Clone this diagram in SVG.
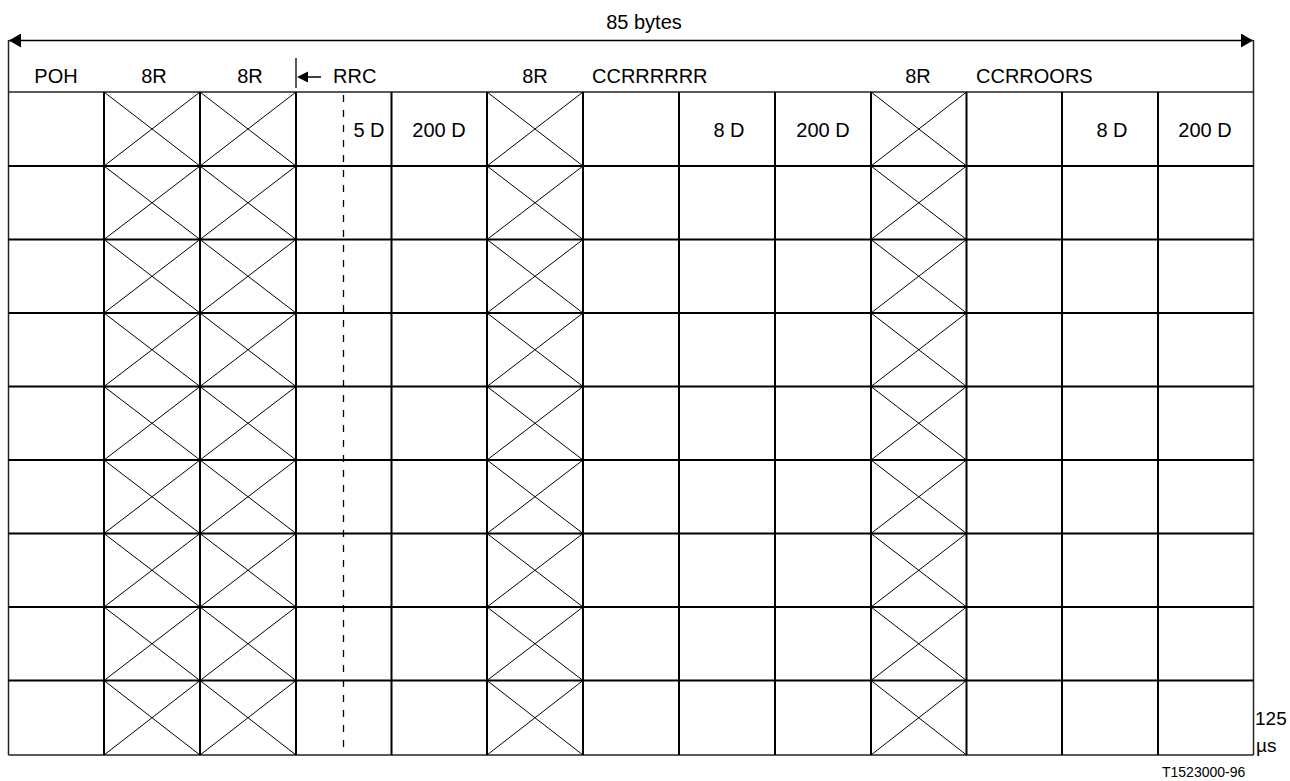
<svg xmlns="http://www.w3.org/2000/svg" width="1290" height="781" viewBox="0 0 1290 781">
<style>
text{font-family:"Liberation Sans",Arial,sans-serif;font-size:20px;fill:#000}
.c{text-anchor:middle}
.small{font-size:14px}
.grid{stroke:#000;stroke-width:2;fill:none}
.outer{stroke:#222;stroke-width:1.5;fill:none}
.x{stroke:#000;stroke-width:1;fill:none}
.dash{stroke:#000;stroke-width:1.3;stroke-dasharray:7 8;fill:none}
</style>
<defs>
<marker id="ah" viewBox="0 0 12 14" refX="12" refY="7" markerWidth="12" markerHeight="14" markerUnits="userSpaceOnUse" orient="auto-start-reverse">
<path d="M0,0 L12,7 L0,14 Z" fill="#000"/>
</marker>
</defs>
<rect width="1290" height="781" fill="#fff"/>

<g id="connectors">
<line x1="9" y1="40.5" x2="1253" y2="40.5" stroke="#000" stroke-width="1.3" marker-start="url(#ah)" marker-end="url(#ah)"/>
<line x1="296" y1="58" x2="296" y2="88" stroke="#000" stroke-width="1.3"/>
<line x1="305" y1="77" x2="321" y2="77" stroke="#000" stroke-width="1.5"/>
<path d="M297,77 L308,71.5 L308,82.5 Z" fill="#000"/>
</g>

<g id="frame">
<line x1="8.5" y1="40" x2="8.5" y2="755" class="outer"/>
<line x1="1253.5" y1="40" x2="1253.5" y2="755" class="outer"/>
<line x1="8.5" y1="92" x2="1253.5" y2="92" class="outer"/>
<line x1="8.5" y1="755" x2="1253.5" y2="755" class="outer"/>
</g>

<g id="grid">
<path class="grid" d="M8.5,166 H1253.5 M8.5,239.5 H1253.5 M8.5,313 H1253.5 M8.5,386.5 H1253.5 M8.5,460 H1253.5 M8.5,533.5 H1253.5 M8.5,607 H1253.5 M8.5,680.5 H1253.5"/>
<path class="grid" d="M104,92 V755 M200,92 V755 M296,92 V755 M391.5,92 V755 M487,92 V755 M583,92 V755 M679,92 V755 M775,92 V755 M871,92 V755 M966.5,92 V755 M1062,92 V755 M1158,92 V755"/>
<line x1="343.5" y1="95" x2="343.5" y2="755" class="dash"/>
</g>

<g id="crosses">
<path class="x" d="
M104,92 L200,166 M200,92 L104,166 M200,92 L296,166 M296,92 L200,166 M487,92 L583,166 M583,92 L487,166 M871,92 L966.5,166 M966.5,92 L871,166
M104,166 L200,239.5 M200,166 L104,239.5 M200,166 L296,239.5 M296,166 L200,239.5 M487,166 L583,239.5 M583,166 L487,239.5 M871,166 L966.5,239.5 M966.5,166 L871,239.5
M104,239.5 L200,313 M200,239.5 L104,313 M200,239.5 L296,313 M296,239.5 L200,313 M487,239.5 L583,313 M583,239.5 L487,313 M871,239.5 L966.5,313 M966.5,239.5 L871,313
M104,313 L200,386.5 M200,313 L104,386.5 M200,313 L296,386.5 M296,313 L200,386.5 M487,313 L583,386.5 M583,313 L487,386.5 M871,313 L966.5,386.5 M966.5,313 L871,386.5
M104,386.5 L200,460 M200,386.5 L104,460 M200,386.5 L296,460 M296,386.5 L200,460 M487,386.5 L583,460 M583,386.5 L487,460 M871,386.5 L966.5,460 M966.5,386.5 L871,460
M104,460 L200,533.5 M200,460 L104,533.5 M200,460 L296,533.5 M296,460 L200,533.5 M487,460 L583,533.5 M583,460 L487,533.5 M871,460 L966.5,533.5 M966.5,460 L871,533.5
M104,533.5 L200,607 M200,533.5 L104,607 M200,533.5 L296,607 M296,533.5 L200,607 M487,533.5 L583,607 M583,533.5 L487,607 M871,533.5 L966.5,607 M966.5,533.5 L871,607
M104,607 L200,680.5 M200,607 L104,680.5 M200,607 L296,680.5 M296,607 L200,680.5 M487,607 L583,680.5 M583,607 L487,680.5 M871,607 L966.5,680.5 M966.5,607 L871,680.5
M104,680.5 L200,755 M200,680.5 L104,755 M200,680.5 L296,755 M296,680.5 L200,755 M487,680.5 L583,755 M583,680.5 L487,755 M871,680.5 L966.5,755 M966.5,680.5 L871,755"/>
</g>

<g id="labels">
<text x="644" y="29" class="c">85 bytes</text>
<text x="56" y="83" class="c">POH</text>
<text x="154" y="83" class="c">8R</text>
<text x="250" y="83" class="c">8R</text>
<text x="333" y="83">RRC</text>
<text x="535" y="83" class="c">8R</text>
<text x="592" y="83">CCRRRRRR</text>
<text x="918" y="83" class="c">8R</text>
<text x="976" y="83">CCRROORS</text>
<text x="369" y="137" class="c">5 D</text>
<text x="439" y="137" class="c">200 D</text>
<text x="729" y="137" class="c">8 D</text>
<text x="823" y="137" class="c">200 D</text>
<text x="1112" y="137" class="c">8 D</text>
<text x="1205" y="137" class="c">200 D</text>
<text x="1255" y="725" style="font-size:19px">125</text>
<text x="1256" y="752" style="font-size:19px">µs</text>
<text x="1162" y="777" class="small">T1523000-96</text>
</g>
</svg>
